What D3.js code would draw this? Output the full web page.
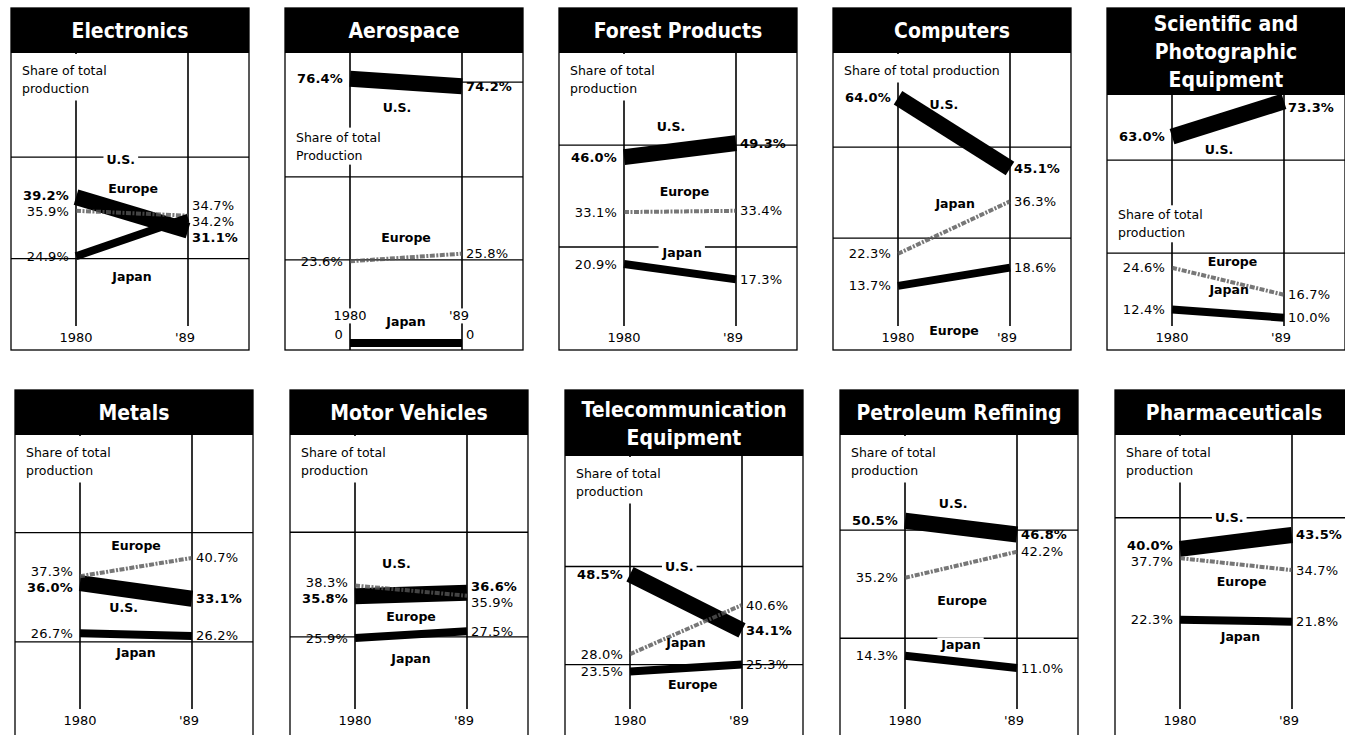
<!DOCTYPE html>
<html lang="en">
<head>
<meta charset="UTF-8">
<title>Share of total production</title>
<script src="https://d3js.org/d3.v7.min.js"></script>
<style>
  body { margin: 0; background: #fff; }
  text { font-family: "DejaVu Sans", sans-serif; fill: #000; }
</style>
</head>
<body>
<script>
// industries in reading order
var industries = ["Electronics", "Aerospace", "Forest Products", "Computers", "Scientific and Photographic Equipment",
                  "Metals", "Motor Vehicles", "Telecommunication Equipment", "Petroleum Refining", "Pharmaceuticals"];
var titleLines = [["Electronics"], ["Aerospace"], ["Forest Products"], ["Computers"], ["Scientific and", "Photographic", "Equipment"],
                  ["Metals"], ["Motor Vehicles"], ["Telecommunication", "Equipment"], ["Petroleum Refining"], ["Pharmaceuticals"]];
var years = ["1980", "'89"];
var regions = ["U.S.", "Europe", "Japan"];

// share of total production, percent: [1980, 1989]
var usShare     = [[39.2, 31.1], [76.4, 74.2], [46.0, 49.3], [64.0, 45.1], [63.0, 73.3], [36.0, 33.1], [35.8, 36.6], [48.5, 34.1], [50.5, 46.8], [40.0, 43.5]];
var europeShare = [[35.9, 34.7], [23.6, 25.8], [33.1, 33.4], [13.7, 18.6], [24.6, 16.7], [37.3, 40.7], [38.3, 35.9], [23.5, 25.3], [35.2, 42.2], [37.7, 34.7]];
var japanShare  = [[24.9, 34.2], [0, 0], [20.9, 17.3], [22.3, 36.3], [12.4, 10.0], [26.7, 26.2], [25.9, 27.5], [28.0, 40.6], [14.3, 11.0], [22.3, 21.8]];

var captions = [["Share of total", "production"], ["Share of total", "Production"], ["Share of total", "production"], ["Share of total production"],
                ["Share of total", "production"], ["Share of total", "production"], ["Share of total", "production"], ["Share of total", "production"],
                ["Share of total", "production"], ["Share of total", "production"]];

// ---- layout (not data) ----
// each panel's vertical scale: value at bottom / top of plot area
var yDomains = [[3.4, 72.4], [-0.6, 81.8], [1.9, 68.8], [-2.1, 74.1], [2.0, 85.4],
                [8.7, 61.7], [4.2, 71.5], [8.5, 81.7], [-5.6, 70.8], [-5.3, 66.0]];
// horizontal rules, in the panel's value units
var rules = [
  [{v: 48.9}, {v: 24.3}],
  [{v: 75.4, span: "right"}, {v: 48}, {v: 24}],
  [{v: 48.8}, {v: 24.9}],
  [{v: 50.8}, {v: 26.5}],
  [{v: 56.1}, {v: 28.9}],
  [{v: 45.4}, {v: 25.1}],
  [{v: 50.9}, {v: 26.2}],
  [{v: 50.5}, {v: 25.3}],
  [{v: 48}, {v: 19}],
  [{v: 47.8}]
];
// which region is printed as the grey stippled line
var faint = ["Europe", "Europe", "Europe", "Japan", "Europe", "Europe", "Europe", "Japan", "Europe", "Europe"];
// caption placed at a value (null = top of panel)
var captionAt = [null, 59.5, null, null, 40.1, null, null, null, null, null];
// region name labels: [value, fraction of the way from 1980 to '89]
var nameAt = [
  {"U.S.": [48.2, .40], "Europe": [41.4, .51], "Japan": [20.1, .50]},
  {"U.S.": [68.2, .42], "Europe": [30.6, .50], "Japan": [6.1, .50]},
  {"U.S.": [53.3, .42], "Europe": [38.0, .54], "Japan": [23.5, .52]},
  {"U.S.": [62.3, .41], "Europe": [1.9, .50], "Japan": [35.8, .51]},
  {"U.S.": [59.1, .42], "Europe": [26.3, .54], "Japan": [18.1, .51]},
  {"U.S.": [31.4, .39], "Europe": [43.1, .50], "Japan": [23.2, .50]},
  {"U.S.": [43.6, .37], "Europe": [30.9, .50], "Japan": [21.2, .50]},
  {"U.S.": [50.5, .44], "Europe": [20.1, .56], "Japan": [30.9, .50]},
  {"U.S.": [55.2, .43], "Europe": [29.2, .51], "Japan": [17.2, .50]},
  {"U.S.": [47.8, .44], "Europe": [31.9, .55], "Japan": [18.0, .54]}
];

var shares = {"U.S.": usShare, "Europe": europeShare, "Japan": japanShare};

var width = 1345, height = 735;
var svg = d3.select("body").append("svg").attr("width", width).attr("height", height);

var panelW = 238;
var rowTop = [8, 390], rowBottom = [350, 760];
var plotRange = [[345, 60], [730, 445]];
var yearY = [337, 720];
var colX = [d3.scaleLinear().domain([0, 1]).range([11, 285]),
            d3.scaleLinear().domain([0, 1]).range([15, 290])];
var x = d3.scalePoint().domain(years).range([65, 177]);
var line = d3.line();

// push labels apart so they do not overlap
function spread(items, gap, lo, hi) {
  items.sort(function(a, b) { return a.y - b.y; });
  for (var it = 0; it < 60; it++) {
    for (var k = 0; k < items.length - 1; k++) {
      var d = items[k + 1].y - items[k].y;
      if (d < gap) { items[k].y -= (gap - d) / 2; items[k + 1].y += (gap - d) / 2; }
    }
  }
  items.forEach(function(d) { d.y = Math.max(lo, Math.min(hi, d.y)); });
  for (var k = 1; k < items.length; k++) items[k].y = Math.max(items[k].y, items[k - 1].y + gap);
  for (var k = items.length - 2; k >= 0; k--) items[k].y = Math.min(items[k].y, items[k + 1].y - gap);
  return items;
}

industries.forEach(function(name, i) {
  var row = Math.floor(i / 5), col = i % 5;
  var g = svg.append("g").attr("transform", "translate(" + colX[row](col) + ",0)");
  var y = d3.scaleLinear().domain(yDomains[i]).range(plotRange[row]);
  var top = rowTop[row], bottom = rowBottom[row];
  var nT = titleLines[i].length;
  var tb = top + 45 + (nT - 1) * 21;
  var x1 = x(years[0]), x2 = x(years[1]);

  var gridG = g.append("g"), axisG = g.append("g"), bgG = g.append("g"),
      bandG = g.append("g"), textG = g.append("g");

  // box
  gridG.append("rect").attr("x", 0).attr("y", top).attr("width", panelW).attr("height", bottom - top)
    .attr("fill", "none").attr("stroke", "#000").attr("stroke-width", 1.3);

  // rules
  rules[i].forEach(function(r) {
    var a = 0, b = panelW;
    if (r.span === "left") b = x1;
    if (r.span === "right") a = x2;
    gridG.append("line").attr("x1", a).attr("x2", b).attr("y1", y(r.v)).attr("y2", y(r.v))
      .attr("stroke", "#000").attr("stroke-width", 1.3);
  });

  // years: lifted when a band sits on the floor
  var allVals = regions.map(function(r) { return d3.min(shares[r][i]); });
  var lowest = y(d3.min(allVals));
  var lifted = lowest > yearY[row] - 15;
  var yy = lifted ? lowest - 27 : yearY[row];
  var axisEnd = lifted ? bottom : yearY[row] - 11;

  years.forEach(function(yr) {
    axisG.append("line").attr("x1", x(yr)).attr("x2", x(yr)).attr("y1", tb).attr("y2", axisEnd)
      .attr("stroke", "#000").attr("stroke-width", 1.6);
  });

  // title bar
  g.append("rect").attr("x", 0).attr("y", top).attr("width", panelW).attr("height", tb - top).attr("fill", "#000");
  var tmid = (top + tb) / 2;
  titleLines[i].forEach(function(t, k) {
    g.append("text")
      .attr("transform", "translate(" + (panelW / 2) + "," + (tmid + (k - (nT - 1) / 2) * 28) + ") scale(0.9,1.05)")
      .attr("text-anchor", "middle").attr("dominant-baseline", "central")
      .style("font-weight", "bold").style("font-size", "21px").style("fill", "#fff")
      .text(t);
  });

  // caption
  var capTop = captionAt[i] === null;
  var c0 = capTop ? tb + 17 : y(captionAt[i]);
  var capText = textG.selectAll("text.cap").data(captions[i]).enter().append("text")
    .attr("class", "cap").attr("x", 11).attr("y", function(d, k) { return c0 + k * 18; })
    .attr("dominant-baseline", "central").style("font-size", "12.5px").text(function(d) { return d; });
  var cb = null;
  capText.each(function() {
    var b = this.getBBox();
    cb = cb ? {x0: Math.min(cb.x0, b.x), x1: Math.max(cb.x1, b.x + b.width), y0: Math.min(cb.y0, b.y), y1: Math.max(cb.y1, b.y + b.height)}
            : {x0: b.x, x1: b.x + b.width, y0: b.y, y1: b.y + b.height};
  });
  bgG.append("rect").attr("x", cb.x0 - 3).attr("y", capTop ? tb + 1 : cb.y0 - 2)
    .attr("width", cb.x1 - cb.x0 + 6).attr("height", (capTop ? cb.y1 + 4 - tb : cb.y1 - cb.y0 + 4))
    .attr("fill", "#fff");

  // region name labels
  regions.forEach(function(r) {
    var p = nameAt[i][r];
    var t = textG.append("text").attr("x", x1 + p[1] * (x2 - x1)).attr("y", y(p[0]))
      .attr("text-anchor", "middle").attr("dominant-baseline", "central")
      .style("font-size", "12.5px").style("font-weight", "bold").text(r);
    var b = t.node().getBBox();
    bgG.append("rect").attr("x", b.x - 3).attr("y", b.y).attr("width", b.width + 6).attr("height", b.height)
      .attr("fill", "#fff");
  });

  // bands
  regions.forEach(function(r) {
    var v = shares[r][i];
    var path = bandG.append("path")
      .attr("d", line([[x1, y(v[0])], [x2, y(v[1])]]))
      .attr("fill", "none").attr("stroke-linecap", "butt");
    if (faint[i] === r) {
      path.attr("stroke", "#555").attr("stroke-width", 4).attr("stroke-dasharray", "5,1.5,2,1.5").attr("opacity", 0.8);
    } else {
      path.attr("stroke", "#000").attr("stroke-width", r === "U.S." ? 16 : 8);
    }
  });

  // value labels
  var lo = tb + 12, hi = lifted ? bottom - 16 : yearY[row] - 14;
  [0, 1].forEach(function(side) {
    var items = regions.map(function(r) {
      var v = shares[r][i][side];
      return {v: v, y: y(v), bold: r === "U.S."};
    });
    spread(items, 16, lo, hi);
    items.forEach(function(d) {
      textG.append("text")
        .attr("x", side === 0 ? x1 - 7 : x2 + 4).attr("y", d.y)
        .attr("text-anchor", side === 0 ? "end" : "start").attr("dominant-baseline", "central")
        .style("font-size", "13px").style("font-weight", d.bold ? "bold" : "normal")
        .style("letter-spacing", "0.2px")
        .text(d.v === 0 ? "0" : d.v.toFixed(1) + "%");
    });
  });

  // year labels
  years.forEach(function(yr, k) {
    var t = textG.append("text").attr("x", x(yr) - (k ? 3 : 0)).attr("y", yy)
      .attr("text-anchor", "middle").attr("dominant-baseline", "central")
      .style("font-size", "13px").text(yr);
    if (lifted) {
      var b = t.node().getBBox();
      bgG.append("rect").attr("x", b.x - 2).attr("y", b.y).attr("width", b.width + 4).attr("height", b.height)
        .attr("fill", "#fff");
    }
  });
});
</script>
</body>
</html>
